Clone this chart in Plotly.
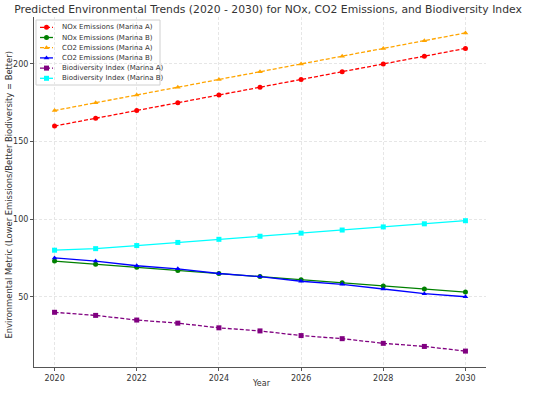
import plotly.graph_objects as go

years = [2020, 2021, 2022, 2023, 2024, 2025, 2026, 2027, 2028, 2029, 2030]
nox_a = [160, 165, 170, 175, 180, 185, 190, 195, 200, 205, 210]
nox_b = [73, 71, 69, 67, 65, 63, 61, 59, 57, 55, 53]
co2_a = [170, 175, 180, 185, 190, 195, 200, 205, 210, 215, 220]
co2_b = [75, 73, 70, 68, 65, 63, 60, 58, 55, 52, 50]
bio_a = [40, 38, 35, 33, 30, 28, 25, 23, 20, 18, 15]
bio_b = [80, 81, 83, 85, 87, 89, 91, 93, 95, 97, 99]

series = [
    ("NOx Emissions (Marina A)", nox_a, "#ff0000", "dash", "circle"),
    ("NOx Emissions (Marina B)", nox_b, "#008000", "solid", "circle"),
    ("CO2 Emissions (Marina A)", co2_a, "#ffa500", "dash", "triangle-up"),
    ("CO2 Emissions (Marina B)", co2_b, "#0000ff", "solid", "triangle-up"),
    ("Biodiversity Index (Marina A)", bio_a, "#800080", "dash", "square"),
    ("Biodiversity Index (Marina B)", bio_b, "#00ffff", "solid", "square"),
]

FONT = "DejaVu Sans"
TXT = "#333333"
L, R, T, B = 34, 64, 17, 26
W, H = 550, 393
DASH = "4px,2px"
PW, PH = W - L - R, H - T - B


def px_to_paper(px, py):
    return (px - L) / PW, (H - B - py) / PH


fig = go.Figure()
for name, vals, col, dash, sym in series:
    fig.add_trace(go.Scatter(
        x=years, y=vals, name=name, mode="lines+markers",
        line=dict(color=col, width=1.3, dash=DASH if dash == "dash" else "solid"),
        marker=dict(color=col, symbol=sym, size=5),
        showlegend=False, xaxis="x", yaxis="y"))

# compact matplotlib-style legend drawn on a pixel-coordinate overlay axis
leg_x0, leg_x1, leg_y0, leg_y1 = 36, 160, 20, 85
first, step = 27.3, 10.2
fig.add_shape(type="rect", xref="x2", yref="y2",
              x0=leg_x0, x1=leg_x1, y0=leg_y0, y1=leg_y1,
              fillcolor="rgba(255,255,255,0.85)", line=dict(color="#d0d0d0", width=1), layer="below")
for i, (name, vals, col, dash, sym) in enumerate(series):
    yy = first + i * step
    fig.add_trace(go.Scatter(
        x=[40, 46.5, 53], y=[yy, yy, yy], mode="lines",
        line=dict(color=col, width=1.3, dash=DASH if dash == "dash" else "solid"),
        showlegend=False, hoverinfo="skip", xaxis="x2", yaxis="y2"))
    fig.add_trace(go.Scatter(
        x=[46.5], y=[yy], mode="markers", marker=dict(color=col, symbol=sym, size=5),
        showlegend=False, hoverinfo="skip", xaxis="x2", yaxis="y2"))
    fig.add_annotation(x=60, y=yy, xref="x2", yref="y2", text=name, showarrow=False,
                       xanchor="left", yanchor="middle",
                       font=dict(family=FONT, size=7.0, color=TXT))

axis_common = dict(
    showgrid=True, gridcolor="#e6e6e6", griddash="3px,2px", gridwidth=0.8,
    showline=True, linecolor="#555555", linewidth=1, ticks="outside", ticklen=3,
    tickcolor="#555555", tickfont=dict(size=8, family=FONT, color=TXT), zeroline=False,
)
fig.update_layout(
    width=W, height=H,
    margin=dict(l=L, r=R, t=T, b=B, autoexpand=False),
    paper_bgcolor="white", plot_bgcolor="white",
    font=dict(family=FONT, color=TXT),
    title=dict(text="Predicted Environmental Trends (2020 - 2030) for NOx, CO2 Emissions, and Biodiversity Index",
               x=268 / W, xref="container", xanchor="center",
               y=1 - 9 / H, yref="container", yanchor="middle",
               font=dict(family=FONT, size=10.8, color=TXT)),
    xaxis=dict(range=[2019.5, 2030.5], tickmode="array", tickvals=[2020, 2022, 2024, 2026, 2028, 2030],
               **axis_common),
    yaxis=dict(range=[4.75, 230.25], tickmode="array", tickvals=[50, 100, 150, 200], **axis_common),
    xaxis2=dict(range=[L, W - R], overlaying="x", visible=False, fixedrange=True),
    yaxis2=dict(range=[H - B, T], overlaying="y", visible=False, fixedrange=True),
)
xt, yt = px_to_paper(261, 383)
fig.add_annotation(x=xt, y=yt, xref="paper", yref="paper",
                   text="Year", showarrow=False, xanchor="center", yanchor="middle",
                   font=dict(family=FONT, size=8, color=TXT))
xy, yy_ = px_to_paper(8, 195.5)
fig.add_annotation(x=xy, y=yy_, xref="paper", yref="paper",
                   text="Environmental Metric (Lower Emissions/Better Biodiversity = Better)",
                   textangle=-90, showarrow=False, xanchor="center", yanchor="middle",
                   font=dict(family=FONT, size=8.4, color=TXT))

fig.write_html("out.html", config={"displayModeBar": False},
               post_script="document.body.style.margin='0';document.body.style.overflow='hidden';")
